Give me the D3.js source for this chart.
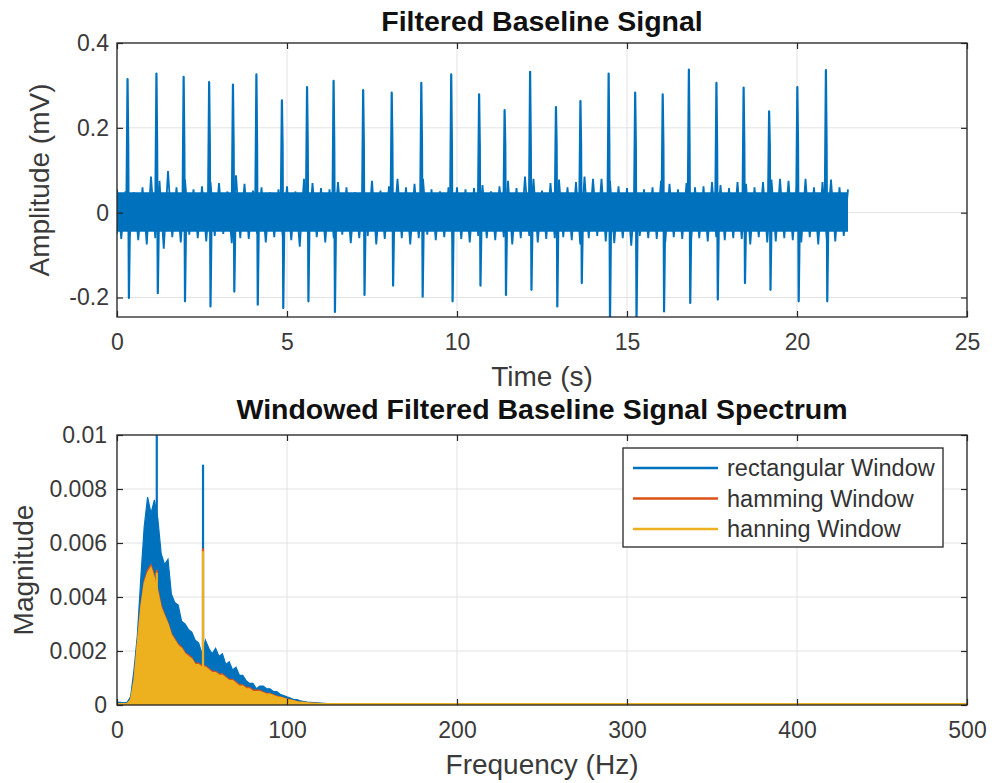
<!DOCTYPE html>
<html>
<head>
<meta charset="utf-8">
<script src="https://cdn.jsdelivr.net/npm/d3@7"></script>
<style>
  body { margin: 0; background: #fff; }
  svg { font-family: "Liberation Sans", Arial, sans-serif; }
  .tick text { font-size: 23px; fill: #3a3a3a; }
  .tick line { stroke: #262626; stroke-width: 1.2; }
  .grid line { stroke: #e2e2e2; stroke-width: 1; }
  .axis_label { font-size: 28px; fill: #3a3a3a; }
  .title { font-size: 28.5px; font-weight: bold; fill: #111; }
  .legend text { font-size: 23.5px; fill: #333; }
</style>
</head>
<body>
<svg id="fig" width="994" height="783"></svg>
<script>
// ---- tick values ----
const timeTicks = [0, 5, 10, 15, 20, 25];
const ampTicks = [-0.2, 0, 0.2, 0.4];
const freqTicks = [0, 100, 200, 300, 400, 500];
const magTicks = [0, 0.002, 0.004, 0.006, 0.008, 0.01];

// ---- top plot: R/S peaks of each beat (s, mV) ----
const beatTimes = [0.31, 1.16, 1.96, 2.71, 3.41, 4.10, 4.85, 5.59, 6.37,
  7.24, 8.08, 8.95, 9.83, 10.65, 11.40, 12.15, 12.91, 13.63,
  14.46, 15.24, 16.05, 16.82, 17.63, 18.43, 19.18, 20.01, 20.85];
const rPeaks = [0.315, 0.328, 0.320, 0.308, 0.302, 0.326, 0.265, 0.296, 0.311,
  0.289, 0.283, 0.306, 0.326, 0.279, 0.242, 0.332, 0.249, 0.263,
  0.328, 0.283, 0.279, 0.337, 0.306, 0.295, 0.239, 0.296, 0.336];
const sPeaks = [-0.201, -0.190, -0.209, -0.221, -0.186, -0.217, -0.225, -0.209, -0.234,
  -0.194, -0.172, -0.198, -0.209, -0.172, -0.194, -0.182, -0.221, -0.166,
  -0.260, -0.260, -0.233, -0.213, -0.205, -0.166, -0.182, -0.209, -0.209];

// noise band every 0.25 s
const bandTimes = [0, 0.25, 0.5, 0.75, 1, 1.25, 1.5, 1.75, 2, 2.25,
  2.5, 2.75, 3, 3.25, 3.5, 3.75, 4, 4.25, 4.5, 4.75,
  5, 5.25, 5.5, 5.75, 6, 6.25, 6.5, 6.75, 7, 7.25,
  7.5, 7.75, 8, 8.25, 8.5, 8.75, 9, 9.25, 9.5, 9.75,
  10, 10.25, 10.5, 10.75, 11, 11.25, 11.5, 11.75, 12, 12.25,
  12.5, 12.75, 13, 13.25, 13.5, 13.75, 14, 14.25, 14.5, 14.75,
  15, 15.25, 15.5, 15.75, 16, 16.25, 16.5, 16.75, 17, 17.25,
  17.5, 17.75, 18, 18.25, 18.5, 18.75, 19, 19.25, 19.5, 19.75,
  20, 20.25, 20.5, 20.75, 21, 21.25, 21.5];
const bandHigh = [0.055, 0.050, 0.048, 0.060, 0.085, 0.075, 0.098, 0.060, 0.078, 0.055,
  0.062, 0.072, 0.070, 0.050, 0.088, 0.068, 0.052, 0.060, 0.048, 0.055,
  0.062, 0.050, 0.080, 0.070, 0.058, 0.055, 0.072, 0.060, 0.048, 0.060,
  0.075, 0.052, 0.062, 0.080, 0.060, 0.068, 0.080, 0.055, 0.050, 0.060,
  0.060, 0.055, 0.058, 0.065, 0.050, 0.062, 0.075, 0.058, 0.085, 0.080,
  0.052, 0.070, 0.078, 0.060, 0.072, 0.085, 0.080, 0.080, 0.075, 0.062,
  0.058, 0.065, 0.055, 0.060, 0.075, 0.068, 0.055, 0.070, 0.060, 0.062,
  0.072, 0.065, 0.058, 0.072, 0.068, 0.060, 0.072, 0.078, 0.080, 0.075,
  0.068, 0.080, 0.060, 0.072, 0.078, 0.060, 0.055];
const bandLow = [-0.050, -0.062, -0.055, -0.065, -0.075, -0.060, -0.085, -0.058, -0.070, -0.052,
  -0.060, -0.068, -0.055, -0.050, -0.072, -0.060, -0.062, -0.050, -0.070, -0.058,
  -0.055, -0.065, -0.080, -0.062, -0.058, -0.070, -0.060, -0.052, -0.072, -0.060,
  -0.055, -0.075, -0.062, -0.058, -0.060, -0.075, -0.060, -0.052, -0.065, -0.058,
  -0.060, -0.062, -0.070, -0.055, -0.060, -0.065, -0.058, -0.075, -0.060, -0.055,
  -0.070, -0.062, -0.060, -0.058, -0.065, -0.075, -0.060, -0.055, -0.068, -0.072,
  -0.060, -0.078, -0.055, -0.060, -0.062, -0.070, -0.058, -0.062, -0.075, -0.060,
  -0.068, -0.058, -0.065, -0.060, -0.062, -0.075, -0.058, -0.070, -0.068, -0.060,
  -0.065, -0.070, -0.058, -0.075, -0.062, -0.068, -0.055];
const noiseCore = [-0.045, 0.048];

// ---- bottom plot: spectrum envelopes (Hz, magnitude) ----
const specFreq = [0, 2, 4, 6, 8, 10, 12, 14, 16, 18,
  20, 22, 24, 26, 28, 30, 32, 34, 36, 38,
  40, 42, 44, 46, 48, 50, 52, 54, 56, 58,
  60, 62, 64, 66, 68, 70, 72, 74, 76, 78,
  80, 82, 84, 86, 88, 90, 92, 94, 96, 98,
  100, 102, 104, 106, 108, 110, 112, 114, 116, 118,
  120, 122, 124, 126, 128, 130, 500];
const rectMag = [0.0001, 0.0001, 0.00008, 0.0001, 0.0003, 0.0013, 0.0026, 0.0047, 0.0066, 0.0077,
  0.0071, 0.0076, 0.0069, 0.0056, 0.0052, 0.0054, 0.0041, 0.0038, 0.0037, 0.0031,
  0.0030, 0.0028, 0.0027, 0.0024, 0.0023, 0.0019, 0.0024, 0.0021, 0.0019, 0.0021,
  0.0018, 0.0019, 0.0015, 0.0016, 0.0013, 0.0014, 0.0011, 0.0011, 0.0009, 0.0008,
  0.0008, 0.0006, 0.0007, 0.0007, 0.0006, 0.0006, 0.0005, 0.0005, 0.0004, 0.00035,
  0.0003, 0.00026, 0.0002, 0.0002, 0.00015, 0.00013, 0.00011, 0.0001, 0.00009, 0.00008,
  0.00007, 0.00006, 0.00005, 0.00005, 0.00004, 0.00004, 0.00003];
const hammMag = [0.00005, 0.00005, 0.00005, 0.00005, 0.0002, 0.00095, 0.00235, 0.0037, 0.0046, 0.005,
  0.0052, 0.0048, 0.0043, 0.0037, 0.00335, 0.00305, 0.00265, 0.00245, 0.00225, 0.00215,
  0.00195, 0.00185, 0.00175, 0.00155, 0.00155, 0.00145, 0.00145, 0.00135, 0.00125, 0.00125,
  0.00115, 0.00115, 0.00105, 0.00095, 0.00095, 0.00085, 0.00075, 0.00075, 0.00065, 0.00065,
  0.00055, 0.00055, 0.00055, 0.00048, 0.00043, 0.00043, 0.00038, 0.00033, 0.0003, 0.00027,
  0.00022, 0.0002, 0.00016, 0.00013, 0.00011, 0.0001, 0.00008, 0.00007, 0.00006, 0.00006,
  0.00005, 0.00005, 0.00005, 0.00005, 0.00005, 0.00005, 0.00005];
const hannMag = [0.00005, 0.00005, 0.00005, 0.00005, 0.0002, 0.0009, 0.0023, 0.0036, 0.0045, 0.0049,
  0.0051, 0.0047, 0.0042, 0.0036, 0.0033, 0.0030, 0.0026, 0.0024, 0.0022, 0.0021,
  0.0019, 0.0018, 0.0017, 0.0015, 0.0015, 0.0014, 0.0014, 0.0013, 0.0012, 0.0012,
  0.0011, 0.0011, 0.0010, 0.0009, 0.0009, 0.0008, 0.0007, 0.0007, 0.0006, 0.0006,
  0.0005, 0.0005, 0.0005, 0.00045, 0.0004, 0.0004, 0.00035, 0.0003, 0.00028, 0.00025,
  0.0002, 0.00018, 0.00015, 0.00012, 0.0001, 0.0001, 0.00008, 0.00007, 0.00006, 0.00006,
  0.00005, 0.00005, 0.00005, 0.00005, 0.00005, 0.00005, 0.00005];

// narrow spectral lines (heart-rate peak and 50 Hz mains)
const lineFreqs = [23.4, 50.6];
const rectLines = [0.0101, 0.0089];
const hammLines = [0.0050, 0.0058];
const hannLines = [0.0049, 0.0057];

const seriesNames = ['rectangular Window', 'hamming Window', 'hanning Window'];
const seriesColors = ['#0072BD', '#D95319', '#EDB120'];

const svg = d3.select('#fig');

/**
 * Draws grid, box and inward ticks like a MATLAB axes; returns group + scales
 */
function makeAxes(cfg) {
  const g = svg.append('g').attr('transform', `translate(${cfg.left},${cfg.top})`);
  const x = d3.scaleLinear().domain(cfg.xDomain).range([0, cfg.width]);
  const y = d3.scaleLinear().domain(cfg.yDomain).range([cfg.height, 0]);

  // grid lines
  const grid = g.append('g').attr('class', 'grid');
  grid.selectAll('.gx').data(cfg.xTicks).join('line').attr('class', 'gx')
    .attr('x1', d => x(d)).attr('x2', d => x(d)).attr('y1', 0).attr('y2', cfg.height);
  grid.selectAll('.gy').data(cfg.yTicks).join('line').attr('class', 'gy')
    .attr('x1', 0).attr('x2', cfg.width).attr('y1', d => y(d)).attr('y2', d => y(d));

  // clip for the data
  g.append('clipPath').attr('id', cfg.id + '-clip')
    .append('rect').attr('width', cfg.width).attr('height', cfg.height);
  const plot = g.append('g').attr('clip-path', `url(#${cfg.id}-clip)`);

  const axes = g.append('g');
  const fmt = d => d === 0 ? '0' : String(d);
  axes.append('g').attr('transform', `translate(0,${cfg.height})`)
    .call(d3.axisBottom(x).tickValues(cfg.xTicks).tickFormat(fmt).tickSizeInner(-6).tickSizeOuter(0).tickPadding(17));
  axes.append('g')
    .call(d3.axisTop(x).tickValues(cfg.xTicks).tickFormat('').tickSizeInner(-6).tickSizeOuter(0));
  axes.append('g')
    .call(d3.axisLeft(y).tickValues(cfg.yTicks).tickFormat(fmt).tickSizeInner(-6).tickSizeOuter(0).tickPadding(cfg.yPad));
  axes.append('g').attr('transform', `translate(${cfg.width},0)`)
    .call(d3.axisRight(y).tickValues(cfg.yTicks).tickFormat('').tickSizeInner(-6).tickSizeOuter(0));
  axes.selectAll('.domain').remove();
  axes.selectAll('.tick text').attr('font-size', null).attr('font-family', null);

  g.append('rect').attr('width', cfg.width).attr('height', cfg.height)
    .attr('fill', 'none').attr('stroke', '#262626').attr('stroke-width', 1.3);

  // title and labels
  svg.append('text').attr('class', 'title').attr('text-anchor', 'middle')
    .attr('x', cfg.left + cfg.width / 2).attr('y', cfg.top - cfg.titleGap).text(cfg.title);
  svg.append('text').attr('class', 'axis_label').attr('text-anchor', 'middle')
    .attr('x', cfg.left + cfg.width / 2).attr('y', cfg.top + cfg.height + 69).text(cfg.xLabel);
  svg.append('text').attr('class', 'axis_label').attr('text-anchor', 'middle')
    .attr('transform', `translate(${cfg.yLabelX},${cfg.top + cfg.height / 2}) rotate(-90)`)
    .text(cfg.yLabel);

  return { g, plot, x, y };
}

// ---------- top: filtered signal ----------
const sigAx = makeAxes({
  id: 'sig', left: 117, top: 43, width: 850, height: 274,
  xDomain: [0, 25], yDomain: [-0.246, 0.4],
  xTicks: timeTicks, yTicks: ampTicks, yPad: 8, titleGap: 12,
  title: 'Filtered Baseline Signal', xLabel: 'Time (s)', yLabel: 'Amplitude (mV)',
  yLabelX: 49
});

const blue = seriesColors[0];

// dense core of the noise
sigAx.plot.append('path')
  .datum(bandTimes)
  .attr('fill', blue)
  .attr('d', d3.area().x(d => sigAx.x(d)).y0(sigAx.y(noiseCore[0])).y1(sigAx.y(noiseCore[1])));

// jagged noise edges: down to the low envelope, up to the high envelope
const zig = [];
bandTimes.forEach((t, i) => {
  zig.push([Math.max(t - 0.125, 0), bandLow[i]]);
  zig.push([t, bandHigh[i]]);
});
sigAx.plot.append('path')
  .datum(zig)
  .attr('fill', 'none').attr('stroke', blue).attr('stroke-width', 1.8)
  .attr('d', d3.line().x(d => sigAx.x(d[0])).y(d => sigAx.y(d[1])));

// QRS spikes
const beatLine = d3.line().x(d => sigAx.x(d[0])).y(d => sigAx.y(d[1]));
sigAx.plot.selectAll('.beat')
  .data(beatTimes.map((t, i) => [[t - 0.03, 0.02], [t, rPeaks[i]], [t + 0.02, 0.16],
    [t + 0.04, sPeaks[i]], [t + 0.07, -0.02]]))
  .join('path')
  .attr('class', 'beat')
  .attr('fill', 'none').attr('stroke', blue).attr('stroke-width', 2.2)
  .attr('stroke-linejoin', 'round')
  .attr('d', beatLine);

// ---------- bottom: spectrum ----------
const specAx = makeAxes({
  id: 'spec', left: 117, top: 435, width: 850, height: 270,
  xDomain: [0, 500], yDomain: [0, 0.01],
  xTicks: freqTicks, yTicks: magTicks, yPad: 10, titleGap: 16,
  title: 'Windowed Filtered Baseline Signal Spectrum', xLabel: 'Frequency (Hz)', yLabel: 'Magnitude',
  yLabelX: 33
});

const magSeries = [rectMag, hammMag, hannMag];
const lineSeries = [rectLines, hammLines, hannLines];

magSeries.forEach((mags, k) => {
  const pts = specFreq.map((f, i) => [f, mags[i]]);
  specAx.plot.append('path')
    .datum(pts)
    .attr('fill', seriesColors[k])
    .attr('stroke', seriesColors[k]).attr('stroke-width', 1.2)
    .attr('d', d3.area().x(d => specAx.x(d[0])).y0(specAx.y(0)).y1(d => specAx.y(d[1])));
  specAx.plot.selectAll('.ln' + k)
    .data(lineFreqs.map((f, i) => [f, lineSeries[k][i]]))
    .join('line')
    .attr('class', 'ln' + k)
    .attr('x1', d => specAx.x(d[0])).attr('x2', d => specAx.x(d[0]))
    .attr('y1', specAx.y(0)).attr('y2', d => specAx.y(d[1]))
    .attr('stroke', seriesColors[k]).attr('stroke-width', 2.2);
});

// legend
const legend = svg.append('g').attr('class', 'legend').attr('transform', 'translate(623,448)');
legend.append('rect').attr('width', 320).attr('height', 99)
  .attr('fill', '#fff').attr('stroke', '#262626').attr('stroke-width', 1.3);
const rows = legend.selectAll('.row').data(seriesNames).join('g')
  .attr('class', 'row')
  .attr('transform', (d, i) => `translate(0,${20 + i * 30.5})`);
rows.append('line').attr('x1', 10).attr('x2', 95)
  .attr('stroke', (d, i) => seriesColors[i]).attr('stroke-width', 2.5);
rows.append('text').attr('x', 104).attr('dy', '0.35em').text(d => d);
</script>
</body>
</html>
